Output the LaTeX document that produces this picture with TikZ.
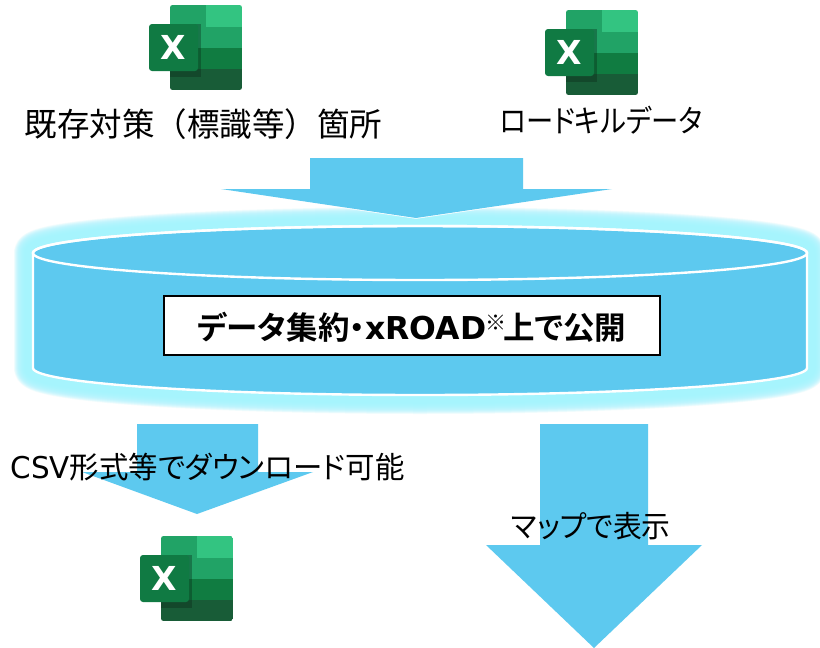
\documentclass[tikz,border=0pt]{standalone}
\usepackage{fontspec}
\setmainfont{DejaVu Sans}
\newfontfamily\jpn{Noto Sans CJK JP}
\newfontfamily\jpf[RawFeature={+palt}]{Noto Sans CJK JP}
\newfontfamily\jpb[RawFeature={+palt}]{Noto Sans CJK JP Bold}
\newfontfamily\latb{DejaVu Sans Bold}
\definecolor{flowblue}{HTML}{5DC9EF}
\definecolor{glowcyan}{HTML}{A6F4FD}
\definecolor{xa}{HTML}{21A366}
\definecolor{xb}{HTML}{33C481}
\definecolor{xc}{HTML}{107C41}
\definecolor{xd}{HTML}{185C37}
\definecolor{xe}{HTML}{107A43}
\tikzset{
  x=1pt,y=-1pt,
  label text/.style={inner sep=0pt,text=black,anchor=center},
  flow arrow/.style={fill=flowblue,preaction={draw=white,line width=1.6pt}},
  excel/.pic={
    \begin{scope}
      \clip[rounded corners=2.5] (21,0) rectangle (93,85);
      \fill[xa] (21,0) rectangle (57,22);
      \fill[xb] (57,0) rectangle (93,22);
      \fill[xa] (21,22) rectangle (93,43);
      \fill[xc] (21,43) rectangle (93,64);
      \fill[xd] (21,64) rectangle (93,85);
    \end{scope}
    \fill[black!60!xd,opacity=.35] (21,19) rectangle (52,72);
    \fill[xe,rounded corners=3] (0,19) rectangle (49,66);
    \node[text=white,inner sep=0pt] (-x) at (24.5,42.5) {\fontsize{33}{33}\latb X};
  },
}
\begin{document}
\begin{tikzpicture}
\useasboundingbox (0,0) rectangle (820,648);
\fill[white] (0,0) rectangle (820,648);
% glow
\foreach \w in {38,37,...,2}{
  \draw[glowcyan,opacity=.12,line width=\w pt,line join=round]
    (33,253) arc[start angle=180,end angle=360,x radius=387,y radius=27]
    -- (807,368) arc[start angle=0,end angle=180,x radius=387,y radius=27] -- cycle;
}
% top arrow
\path[flow arrow] (310,158) -- (523,158) -- (523,189) -- (612,189) -- (416,218) -- (221,189) -- (310,189) -- cycle;
% cylinder
\fill[flowblue,draw=white,line width=2.4pt]
    (33,253) arc[start angle=180,end angle=360,x radius=387,y radius=27]
    -- (807,368) arc[start angle=0,end angle=180,x radius=387,y radius=27] -- cycle;
\draw[white,line width=2.4pt] (420,253) ellipse[x radius=387,y radius=27];
% box
\node[draw=black,fill=white,line width=2pt,minimum width=496pt,minimum height=59pt,inner sep=0pt,anchor=center] (box) at (412,325.5) {};
\node[label text] (boxlabel) at (412,327) {\fontsize{31.5}{31.5}\jpb データ集約・\latb xROAD\hspace{-1pt}\raisebox{9pt}{\fontsize{21}{21}\jpn ※}\hspace{-3pt}\jpb 上で公開};
% lower arrows
\path[flow arrow] (137,424) -- (258,424) -- (258,472) -- (313,472) -- (197,514) -- (82,472) -- (137,472) -- cycle;
\path[flow arrow] (540,424) -- (648,424) -- (648,545) -- (702,545) -- (594,648) -- (486,545) -- (540,545) -- cycle;
% icons
\pic (iconA) at (149,5) {excel};
\pic (iconB) at (545,10) {excel};
\pic (iconC) at (140,536) {excel};
% labels
\node[label text] (lblA) at (203.5,124) {\fontsize{32.5}{32.5}\jpn 既存対策（標識等）箇所};
\node[label text] (lblB) at (601,120) {\scalebox{.88}[1]{\fontsize{31}{31}\jpf ロードキルデータ}};
\node[label text] (lblC) at (207.5,467) {\scalebox{.98}[1]{\fontsize{30}{30}\selectfont CSV\jpf 形式等でダウンロード可能}};
\node[label text] (lblD) at (591,526) {\scalebox{.96}[1]{\fontsize{30}{30}\jpf マップで表示}};
\end{tikzpicture}
\end{document}
